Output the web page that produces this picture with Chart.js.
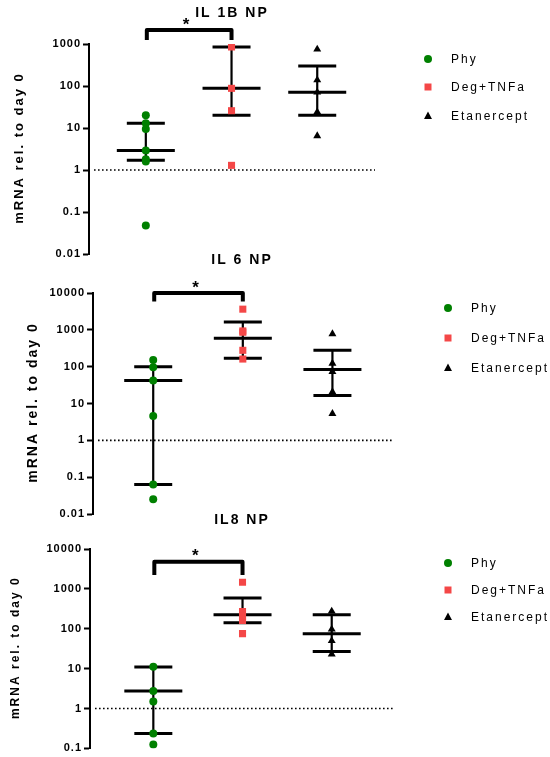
<!DOCTYPE html>
<html>
<head>
<meta charset="utf-8">
<script src="https://cdn.jsdelivr.net/npm/chart.js@4/dist/chart.umd.min.js"></script>
<style>
  html, body { margin: 0; padding: 0; background: #fff; }
  #wrap { position: relative; width: 550px; height: 757px; }
  #wrap canvas { position: absolute; left: 0; top: 0; }
</style>
</head>
<body>
<div id="wrap">
  <canvas id="il1b" width="550" height="757"></canvas>
  <canvas id="il6" width="550" height="757"></canvas>
  <canvas id="il8" width="550" height="757"></canvas>
</div>
<script>
// Treatment groups (x positions 1, 2, 3)
const groups = ['Phy', 'Deg+TNFa', 'Etanercept'];
const groupColors = ['#008000', '#f44747', '#000000'];
const groupShapes = ['circle', 'rect', 'triangle'];
const yAxisTitle = 'mRNA rel. to day 0';

// IL 1B NP: individual values per group
const il1bPhy  = [20, 12.9, 9.5, 2.9, 1.8, 1.6, 0.048];
const il1bDeg  = [850, 88, 25.8, 1.29];
const il1bEtan = [748, 139, 71, 24, 6.5];
// median and interquartile range per group
const il1bMedian = [2.9, 88, 71];
const il1bLow    = [1.7, 20, 20];
const il1bHigh   = [12.9, 850, 299];
const il1bTicks  = [0.01, 0.1, 1, 10, 100, 1000];
const il1bTickLabels = ['0.01', '0.1', '1', '10', '100', '1000'];

// IL 6 NP
const il6Phy  = [151, 97, 42, 4.6, 0.063, 0.025];
const il6Deg  = [3640, 933, 860, 278, 161];
const il6Etan = [773, 123, 73, 20.7, 5.3];
const il6Median = [42, 590, 84];
const il6Low    = [0.063, 168, 16.5];
const il6High   = [100, 1640, 278];
const il6Ticks  = [0.01, 0.1, 1, 10, 100, 1000, 10000];
const il6TickLabels = ['0.01', '0.1', '1', '10', '100', '1000', '10000'];

// IL8 NP
const il8Phy  = [11.2, 2.75, 1.49, 0.235, 0.126];
const il8Deg  = [1473, 270, 203, 162, 75.5];
const il8Etan = [275, 97, 50, 23];
const il8Median = [2.75, 224, 75];
const il8Low    = [0.235, 142, 27];
const il8High   = [11, 591, 224];
const il8Ticks  = [0.1, 1, 10, 100, 1000, 10000];
const il8TickLabels = ['0.1', '1', '10', '100', '1000', '10000'];

// Page layout of each panel (pixels) and significance bracket levels
const panels = [
  {
    id: 'il1b', title: 'IL 1B NP', titleX: 231, titleY: 13,
    values: [il1bPhy, il1bDeg, il1bEtan],
    median: il1bMedian, low: il1bLow, high: il1bHigh,
    ticks: il1bTicks, tickLabels: il1bTickLabels,
    axisX: 89, top: 44, bottom: 254, right: 375, xMin: 0.337, xMax: 3.674,
    axisTitleX: 19, axisTitleSize: 13,
    legendMarkerX: 428, legendTextX: 451, legendY: [60, 88, 117],
    bracketTop: 2154, bracketLeg: 1245
  },
  {
    id: 'il6', title: 'IL 6 NP', titleX: 241, titleY: 260,
    values: [il6Phy, il6Deg, il6Etan],
    median: il6Median, low: il6Low, high: il6High,
    ticks: il6Ticks, tickLabels: il6TickLabels,
    axisX: 93, top: 293, bottom: 514, right: 393, xMin: 0.328, xMax: 3.676,
    axisTitleX: 33, axisTitleSize: 14,
    legendMarkerX: 448, legendTextX: 471, legendY: [309, 339, 369],
    bracketTop: 10000, bracketLeg: 5870
  },
  {
    id: 'il8', title: 'IL8 NP', titleX: 241, titleY: 520,
    values: [il8Phy, il8Deg, il8Etan],
    median: il8Median, low: il8Low, high: il8High,
    ticks: il8Ticks, tickLabels: il8TickLabels,
    axisX: 90, top: 549, bottom: 751, right: 393, xMin: 0.29, xMax: 3.687,
    axisTitleX: 16, axisTitleSize: 12,
    legendMarkerX: 448, legendTextX: 471, legendY: [564, 591, 618],
    bracketTop: 4790, bracketLeg: 2230
  }
];

const FONT = '"Liberation Sans", Arial, Helvetica, sans-serif';

function drawMarker(ctx, shape, x, y, color) {
  ctx.fillStyle = color;
  ctx.beginPath();
  if (shape === 'circle') {
    ctx.arc(x, y, 4, 0, Math.PI * 2);
  } else if (shape === 'rect') {
    ctx.rect(x - 3.5, y - 3.5, 7, 7);
  } else {
    ctx.moveTo(x, y - 4.5);
    ctx.lineTo(x + 4, y + 3);
    ctx.lineTo(x - 4, y + 3);
    ctx.closePath();
  }
  ctx.fill();
}

function decorations(p) {
  return {
    id: 'decorations',
    beforeDraw(chart) {
      chart.ctx.letterSpacing = '1px';
    },
    beforeDatasetsDraw(chart) {
      const ctx = chart.ctx, xs = chart.scales.x, ys = chart.scales.y;
      const area = chart.chartArea;
      ctx.save();
      // reference level at 1 (day 0)
      const y1 = ys.getPixelForValue(1);
      ctx.strokeStyle = '#000';
      ctx.lineWidth = 1.6;
      ctx.setLineDash([1.6, 2.4]);
      ctx.beginPath();
      ctx.moveTo(area.left + 5, y1);
      ctx.lineTo(area.right, y1);
      ctx.stroke();
      ctx.setLineDash([]);
      // median with interquartile range
      for (let i = 0; i < groups.length; i++) {
        const cx = xs.getPixelForValue(i + 1);
        const ym = ys.getPixelForValue(p.median[i]);
        const yl = ys.getPixelForValue(p.low[i]);
        const yh = ys.getPixelForValue(p.high[i]);
        ctx.lineCap = 'butt';
        ctx.lineWidth = 2.2;
        ctx.beginPath();
        ctx.moveTo(cx, yh); ctx.lineTo(cx, yl);
        ctx.stroke();
        ctx.lineWidth = 3;
        ctx.beginPath();
        ctx.moveTo(cx - 19, yh); ctx.lineTo(cx + 19, yh);
        ctx.moveTo(cx - 19, yl); ctx.lineTo(cx + 19, yl);
        ctx.moveTo(cx - 29, ym); ctx.lineTo(cx + 29, ym);
        ctx.stroke();
      }
      ctx.restore();
    },
    afterDraw(chart) {
      const ctx = chart.ctx, xs = chart.scales.x, ys = chart.scales.y;
      const area = chart.chartArea;
      ctx.save();
      ctx.fillStyle = '#000';
      // panel title
      ctx.letterSpacing = '2px';
      ctx.font = 'bold 14px ' + FONT;
      ctx.textAlign = 'center';
      ctx.textBaseline = 'middle';
      ctx.fillText(p.title, p.titleX + 1, p.titleY);
      // y axis title
      ctx.save();
      ctx.translate(p.axisTitleX, (area.top + area.bottom) / 2);
      ctx.rotate(-Math.PI / 2);
      ctx.font = 'bold ' + p.axisTitleSize + 'px ' + FONT;
      ctx.fillText(yAxisTitle, 1, 0);
      ctx.restore();
      // significance bracket between Phy and Deg+TNFa
      const bx1 = xs.getPixelForValue(1) + 1, bx2 = xs.getPixelForValue(2);
      const bt = ys.getPixelForValue(p.bracketTop);
      const bl = ys.getPixelForValue(p.bracketLeg);
      ctx.strokeStyle = '#000';
      ctx.lineWidth = 4;
      ctx.lineJoin = 'round';
      ctx.lineCap = 'butt';
      ctx.beginPath();
      ctx.moveTo(bx1, bl);
      ctx.lineTo(bx1, bt);
      ctx.lineTo(bx2, bt);
      ctx.lineTo(bx2, bl);
      ctx.stroke();
      ctx.letterSpacing = '0px';
      ctx.font = 'bold 17px ' + FONT;
      ctx.textAlign = 'center';
      ctx.textBaseline = 'middle';
      ctx.fillText('*', (bx1 + bx2) / 2 - 3, bt - 5);
      // legend
      ctx.letterSpacing = '2px';
      ctx.font = '12px ' + FONT;
      ctx.textAlign = 'left';
      for (let i = 0; i < groups.length; i++) {
        drawMarker(ctx, groupShapes[i], p.legendMarkerX, p.legendY[i] - 1, groupColors[i]);
        ctx.fillStyle = '#000';
        ctx.fillText(groups[i], p.legendTextX, p.legendY[i]);
      }
      ctx.restore();
    }
  };
}

function buildChart(p) {
  const datasets = p.values.map((vals, i) => ({
    label: groups[i],
    data: vals.map(v => ({ x: i + 1, y: v })),
    pointStyle: groupShapes[i],
    pointRadius: groupShapes[i] === 'circle' ? 4 : (groupShapes[i] === 'rect' ? 5 : 4.6),
    pointBackgroundColor: groupColors[i],
    pointBorderWidth: 0,
    showLine: false
  }));
  const tickText = {};
  p.ticks.forEach((t, k) => { tickText[t] = p.tickLabels[k]; });
  return new Chart(document.getElementById(p.id), {
    type: 'scatter',
    data: { datasets },
    options: {
      responsive: false,
      animation: false,
      events: [],
      layout: { padding: { left: 0, top: p.top, right: 550 - p.right, bottom: 757 - p.bottom } },
      plugins: { legend: { display: false }, tooltip: { enabled: false } },
      scales: {
        x: { type: 'linear', min: p.xMin, max: p.xMax, display: false },
        y: {
          type: 'logarithmic',
          min: p.ticks[0],
          max: p.ticks[p.ticks.length - 1],
          afterFit: s => { s.width = p.axisX; },
          afterBuildTicks: s => { s.ticks = p.ticks.map(v => ({ value: v })); },
          border: { display: true, color: '#000', width: 2 },
          grid: { display: true, drawOnChartArea: false, drawTicks: true, tickLength: 6, tickWidth: 2, tickColor: '#000' },
          ticks: {
            autoSkip: false,
            padding: 2,
            color: '#000',
            font: { family: FONT, size: 11, weight: 'bold' },
            callback: v => tickText[v] !== undefined ? tickText[v] : ''
          }
        }
      }
    },
    plugins: [decorations(p)]
  });
}

panels.forEach(buildChart);
</script>
</body>
</html>
